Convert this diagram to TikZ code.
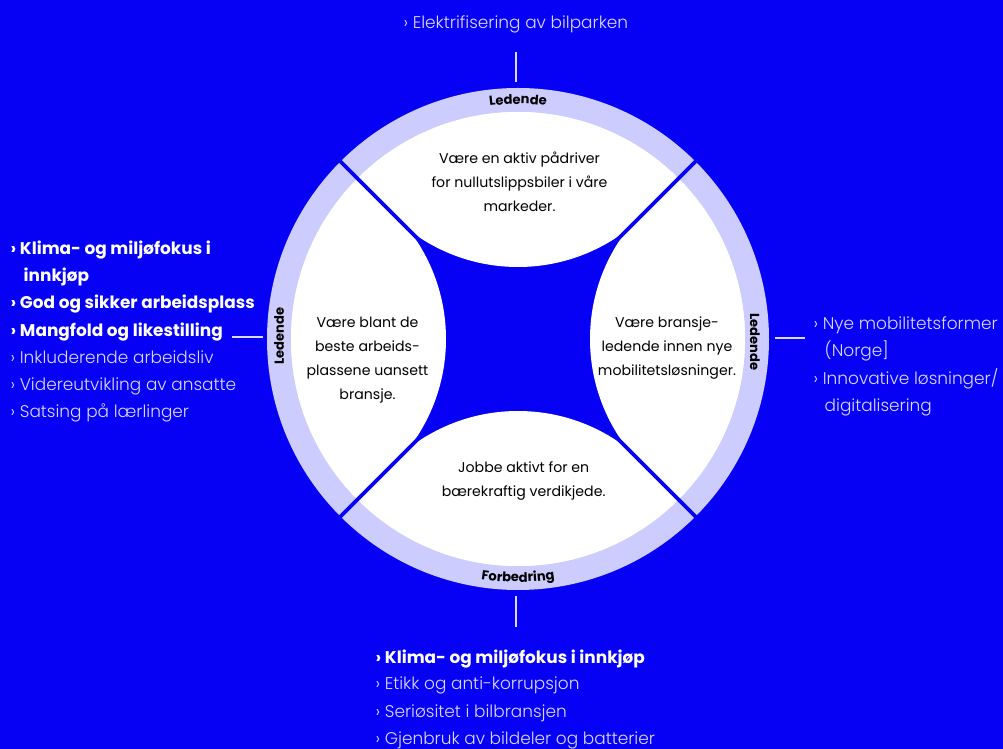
\documentclass[tikz,border=0pt]{standalone}
\usepackage{fontspec}
\setmainfont{Poppins}
\newfontfamily\lightfont{Poppins Light}
\usetikzlibrary{decorations.text}
\definecolor{fondoazul}{RGB}{6,0,245}
\definecolor{anillo}{RGB}{204,204,255}
\definecolor{textoclaro}{RGB}{218,218,255}

\begin{document}
\begin{tikzpicture}[x=0.75pt, y=0.75pt,
    petalo/.style={align=center, text=black, font=\fontsize{10.6}{18}\selectfont},
    negrita/.style={anchor=base west, text=white, font=\bfseries\fontsize{12.7}{21}\selectfont},
    claro/.style={anchor=base west, text=textoclaro, font=\lightfont\fontsize{12.7}{21}\selectfont},
    etiqueta/.style={text=black, font=\bfseries\fontsize{9.8}{11}\selectfont},
    conector/.style={draw=textoclaro, line width=1pt}]

    % Fondo azul de toda la figura
    \fill[fondoazul] (-518,-410) rectangle (485,339);
    \useasboundingbox (-518,-410) rectangle (485,339);

    % Anillo exterior y disco blanco
    \fill[anillo] (0,0) circle (251);
    \fill[white] (0,0) circle (227);

    % Zona azul central entre los cuatro petalos
    \begin{scope}
      \clip (0,0) circle (227);
      \fill[fondoazul] (0,0) circle (160);
      \foreach \a in {0,90,180,270}
        \fill[white] (\a:251) circle (179);
    \end{scope}

    % Lineas diagonales que separan los petalos
    \foreach \a in {45,135,225,315}
      \draw[fondoazul, line width=2.7pt] (\a:140) -- (\a:256);

    % Etiquetas del anillo
    \path[decorate, decoration={text along path, text align=center,
        text={|\bfseries\fontsize{9.8}{11}\selectfont|Ledende}}]
      (100:235) arc[start angle=100, end angle=80, radius=235];
    \path[decorate, decoration={text along path, text align=center,
        text={|\bfseries\fontsize{9.8}{11}\selectfont|Forbedring}}]
      (-105:243) arc[start angle=-105, end angle=-75, radius=243];
    \node[etiqueta, rotate=90] (ledVenstre) at (-239,3) {Ledende};
    \node[etiqueta, rotate=-90] (ledHoyre) at (237,-3) {Ledende};

    % Textos de los petalos
    \node[petalo] (pTopp) at (1.5,157) {Være en aktiv pådriver\\for nullutslippsbiler i våre\\markeder.};
    \node[petalo] (pVenstre) at (-150.5,-21) {Være blant de\\beste arbeids-\\plassene uansett\\bransje.};
    \node[petalo] (pHoyre) at (149,-9) {Være bransje-\\ledende innen nye\\mobilitetsløsninger.};
    \node[petalo] (pBunn) at (5.7,-142) {Jobbe aktivt for en\\bærekraftig verdikjede.};

    % Lista de arriba
    \node[claro] (elektrifisering) at (-119,310) {›~Elektrifisering av bilparken};
    \coordinate (toppA) at (-2,287);
    \coordinate (toppB) at (-2,257);
    \draw[conector] (toppA) -- (toppB);

    % Lista de la izquierda
    \node[negrita] (klima) at (-512,84) {›~Klima- og miljøfokus i};
    \node[negrita] (innkjop) at (-499,57) {innkjøp};
    \node[negrita] (godArbeid) at (-512,30) {›~God og sikker arbeidsplass};
    \node[negrita] (mangfold) at (-512,2) {›~Mangfold og likestilling};
    \node[claro] (inkludering) at (-512,-25) {›~Inkluderende arbeidsliv};
    \node[claro] (videreutvikling) at (-512,-52) {›~Videreutvikling av ansatte};
    \node[claro] (larlinger) at (-512,-79) {›~Satsing på lærlinger};
    \coordinate (venstreA) at (-286,2);
    \coordinate (venstreB) at (-255,2);
    \draw[conector] (venstreA) -- (venstreB);

    % Lista de la derecha
    \coordinate (hoyreA) at (257,1);
    \coordinate (hoyreB) at (287,1);
    \draw[conector] (hoyreA) -- (hoyreB);
    \node[claro] (mobilitet) at (291,9) {›~Nye mobilitetsformer};
    \node[claro] (norge) at (302,-18) {(Norge]};
    \node[claro] (innovativ) at (291,-46) {›~Innovative løsninger/};
    \node[claro] (digital) at (302,-73) {digitalisering};

    % Lista de abajo
    \coordinate (bunnA) at (-2,-257);
    \coordinate (bunnB) at (-2,-288);
    \draw[conector] (bunnA) -- (bunnB);
    \node[negrita] (klimaBunn) at (-147,-324) {›~Klima- og miljøfokus i innkjøp};
    \node[claro] (etikk) at (-147,-350) {›~Etikk og anti-korrupsjon};
    \node[claro] (seriositet) at (-147,-378) {›~Seriøsitet i bilbransjen};
    \node[claro] (gjenbruk) at (-147,-405) {›~Gjenbruk av bildeler og batterier};

  \end{tikzpicture}
\end{document}
